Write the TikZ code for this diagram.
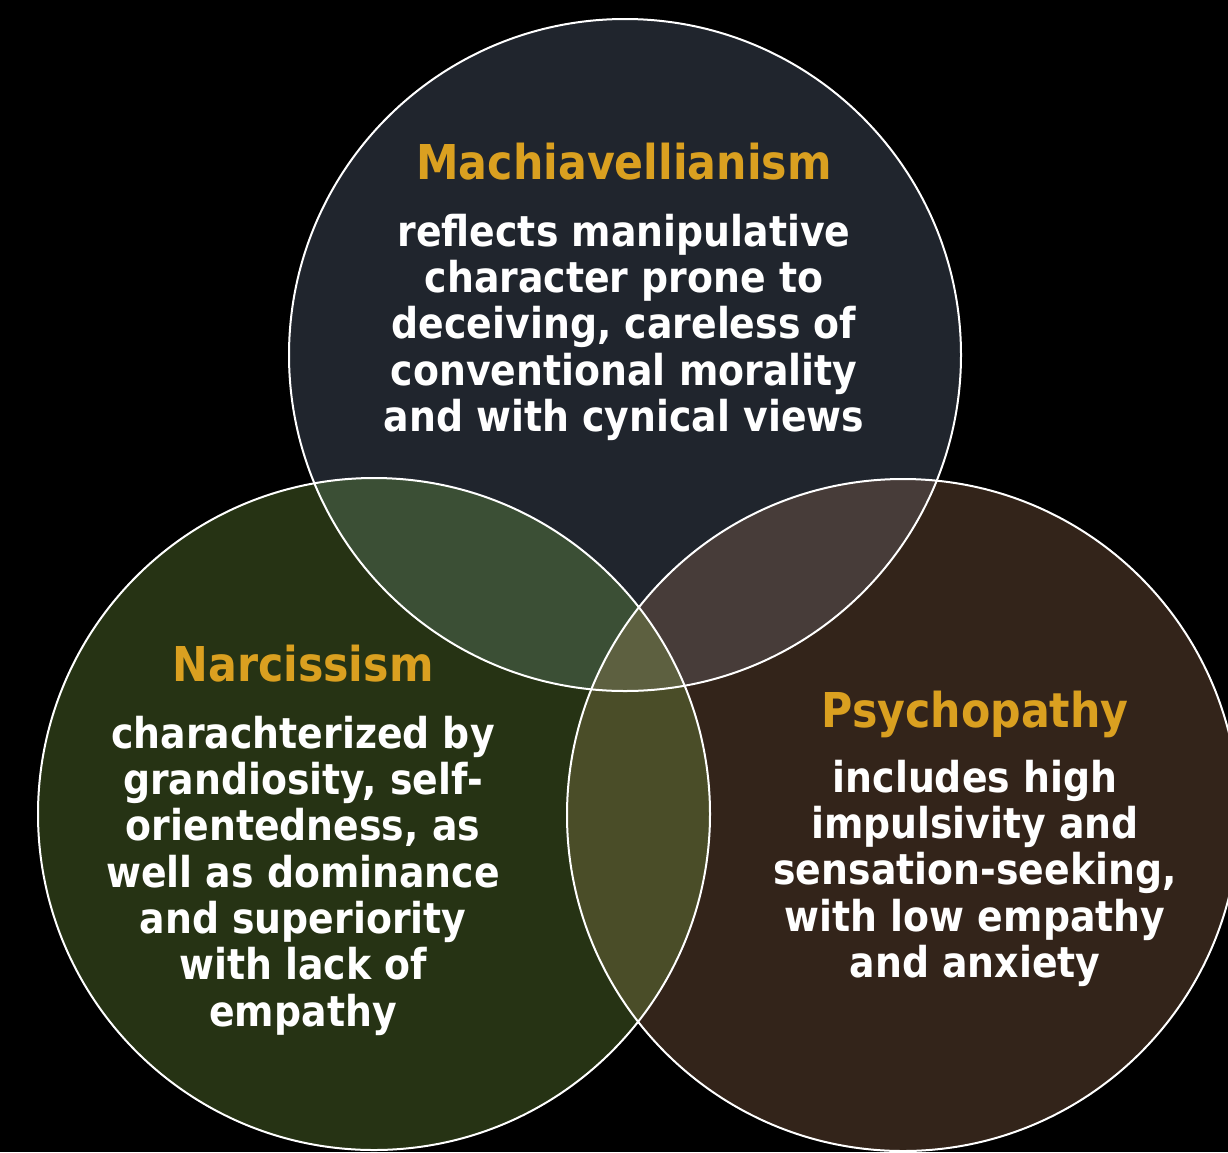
\documentclass[tikz,border=0pt]{standalone}
\usepackage{fontspec}
\setmainfont{DejaVu Sans}[FakeStretch=0.89]
\definecolor{cT}{HTML}{20252D}
\definecolor{cL}{HTML}{263314}
\definecolor{cR}{HTML}{33241A}
\definecolor{cTL}{HTML}{3B4F35}
\definecolor{cTR}{HTML}{473C39}
\definecolor{cLR}{HTML}{4A4D28}
\definecolor{cAll}{HTML}{5D6040}
\definecolor{gold}{HTML}{DAA020}
\tikzset{
  ttl/.style={text=gold, font=\fontsize{48}{52}\selectfont\bfseries, inner sep=0pt, anchor=base},
  bodytext/.style={text=white, align=center, font=\fontsize{42.5}{46.3}\selectfont\bfseries, inner sep=0pt, anchor=north},
  rim/.style={draw=white, line width=2pt}
}
\begin{document}
\begin{tikzpicture}[x=1pt,y=-1pt]
\useasboundingbox (0,0) rectangle (1228,1152);
\clip (0,0) rectangle (1228,1152);
\fill[black] (0,0) rectangle (1228,1152);
\coordinate (cm) at (625,355);
\coordinate (cn) at (374,814);
\coordinate (cp) at (903,815);
\fill[cT] (cm) circle[radius=336];
\fill[cL] (cn) circle[radius=336];
\fill[cR] (cp) circle[radius=336];
\begin{scope}
  \clip (cm) circle[radius=336];
  \fill[cTL] (cn) circle[radius=336];
  \fill[cTR] (cp) circle[radius=336];
\end{scope}
\begin{scope}
  \clip (cn) circle[radius=336];
  \fill[cLR] (cp) circle[radius=336];
\end{scope}
\begin{scope}
  \clip (cm) circle[radius=336];
  \clip (cn) circle[radius=336];
  \fill[cAll] (cp) circle[radius=336];
\end{scope}
\draw[rim] (cm) circle[radius=336];
\draw[rim] (cn) circle[radius=336];
\draw[rim] (cp) circle[radius=336];

\node[ttl] (mtitle) at (624,179) {Machiavellianism};
\node[bodytext] (mbody) at (624,213.7) {reflects manipulative\\character prone to\\deceiving, careless of\\conventional morality\\and with cynical views};

\node[ttl] (ntitle) at (303,681) {Narcissism};
\node[bodytext] (nbody) at (303,715.7) {charachterized by\\grandiosity, self-\\orientedness, as\\well as dominance\\and superiority\\with lack of\\empathy};

\node[ttl] (ptitle) at (975,727) {Psychopathy};
\node[bodytext] (pbody) at (975,759.7) {includes high\\impulsivity and\\sensation-seeking,\\with low empathy\\and anxiety};
\end{tikzpicture}
\end{document}
